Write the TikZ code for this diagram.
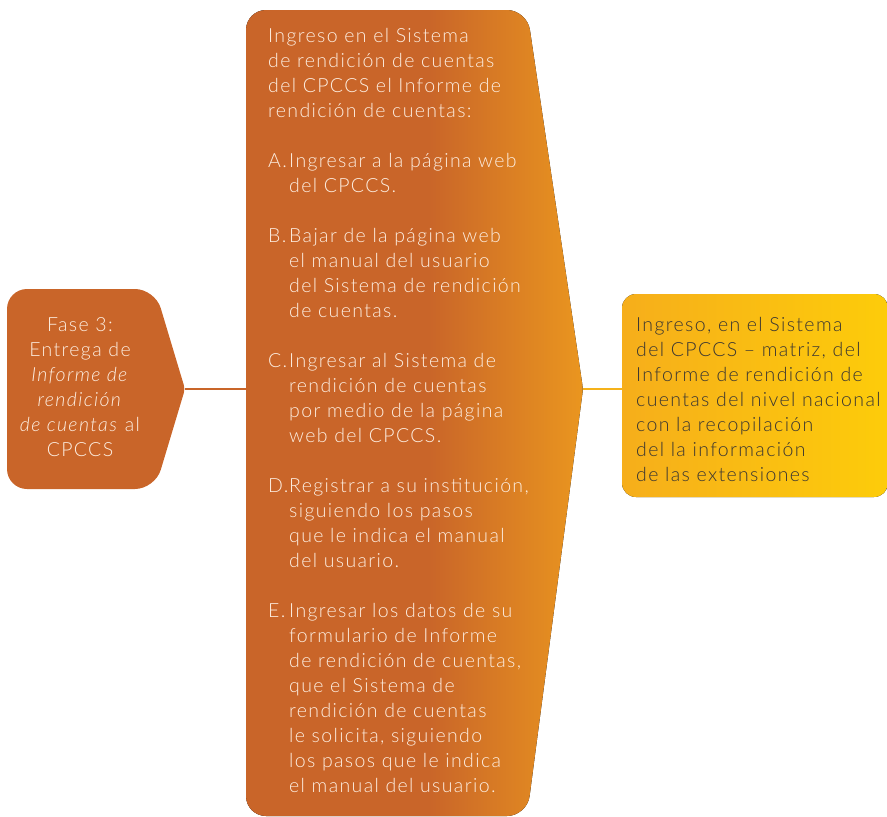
\documentclass[tikz,border=0pt]{standalone}
\usepackage{xcolor}
\usepackage{fontspec}
\setmainfont{Lato}[UprightFont={* Light}, ItalicFont={* Light Italic}, LetterSpace=7]
\usepackage{tikz}
\usetikzlibrary{positioning,calc}

\definecolor{faseorange}{RGB}{201,101,41}
\definecolor{pasoslight}{RGB}{234,150,31}
\definecolor{matrizleft}{RGB}{246,174,27}
\definecolor{matrizright}{RGB}{253,204,10}
\definecolor{enlaceamarillo}{RGB}{245,178,26}
\definecolor{textocrema}{RGB}{253,238,225}
\definecolor{textooscuro}{RGB}{58,54,50}

\pgfdeclarehorizontalshading{pasosshade}{100bp}{color(0bp)=(faseorange); color(52bp)=(faseorange); color(75bp)=(pasoslight); color(100bp)=(pasoslight)}

\begin{document}
\begin{tikzpicture}[
    x=1pt, y=-1pt,
    caja/.style={rounded corners=20pt},
    enlace/.style={line width=2.6pt},
    textocaja/.style={inner sep=0pt, font=\fontsize{19.5}{25}\selectfont}
]
    \useasboundingbox (0,0) rectangle (887,817);

    % puntos de las formas
    \coordinate (fasetip) at (185,389);
    \coordinate (pasosW) at (247,389);
    \coordinate (pasostip) at (583,389);
    \coordinate (matrizW) at (622,389);

    % Fase 3
    \fill[faseorange, caja] (7,389) -- (7,289) -- (155,289) [rounded corners=4pt] -- (fasetip) [rounded corners=20pt] -- (155,489) -- (7,489) -- cycle;
    % pasos
    \fill[shading=pasosshade, caja] (246,412) -- (246,10) -- (527,10) [rounded corners=4pt] -- (pasostip) [rounded corners=20pt] -- (527,816) -- (246,816) -- cycle;
    % matriz
    \fill[left color=matrizleft, right color=matrizright, rounded corners=14pt] (622,294) rectangle (888,497);

    \node[textocaja, text=textocrema, align=center] (fase) at (80,387) {Fase 3:\\Entrega de\\\textit{Informe de}\\\textit{rendición}\\\textit{de cuentas} al\\CPCCS};

    \node[textocaja, text=textocrema, align=left, anchor=north west] (pasos) at (268,28) {%
        Ingreso en el Sistema\\
        de rendición de cuentas\\
        del CPCCS el Informe de\\
        rendición de cuentas:\\[25pt]
        \makebox[21pt][l]{A.}Ingresar a la página web\\
        \hspace*{21pt}del CPCCS.\\[25pt]
        \makebox[21pt][l]{B.}Bajar de la página web\\
        \hspace*{21pt}el manual del usuario\\
        \hspace*{21pt}del Sistema de rendición\\
        \hspace*{21pt}de cuentas.\\[25pt]
        \makebox[21pt][l]{C.}Ingresar al Sistema de\\
        \hspace*{21pt}rendición de cuentas\\
        \hspace*{21pt}por medio de la página\\
        \hspace*{21pt}web del CPCCS.\\[25pt]
        \makebox[21pt][l]{D.}Registrar a su institución,\\
        \hspace*{21pt}siguiendo los pasos\\
        \hspace*{21pt}que le indica el manual\\
        \hspace*{21pt}del usuario.\\[25pt]
        \makebox[21pt][l]{E.}Ingresar los datos de su\\
        \hspace*{21pt}formulario de Informe\\
        \hspace*{21pt}de rendición de cuentas,\\
        \hspace*{21pt}que el Sistema de\\
        \hspace*{21pt}rendición de cuentas\\
        \hspace*{21pt}le solicita, siguiendo\\
        \hspace*{21pt}los pasos que le indica\\
        \hspace*{21pt}el manual del usuario.};

    \node[textocaja, text=textooscuro, align=left, anchor=west] (matriz) at (636,399) {Ingreso, en el Sistema\\del CPCCS -- matriz, del\\Informe de rendición de\\cuentas del nivel nacional\\con la recopilación\\del la información\\de las extensiones};

    \draw[enlace, faseorange] (fasetip) -- (pasosW);
    \draw[enlace, enlaceamarillo] (pasostip) -- (matrizW);
\end{tikzpicture}
\end{document}
